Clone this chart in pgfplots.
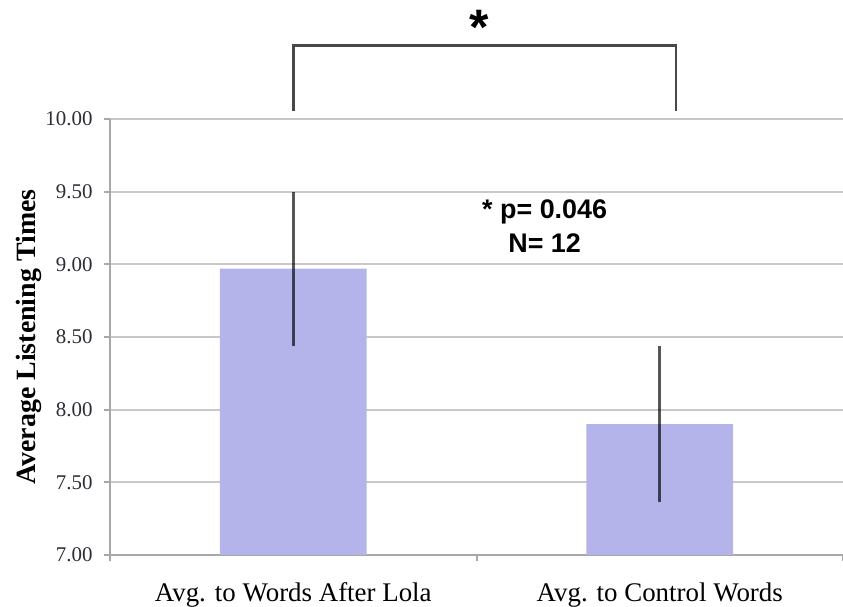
\documentclass[border=0pt]{standalone}
\usepackage{pgfplots}
\pgfplotsset{compat=1.18}
\usepackage{fontspec}
\setmainfont{Liberation Serif}
\newfontfamily\arial{Liberation Sans}
\definecolor{barfill}{RGB}{180,180,235}
\definecolor{gridgray}{RGB}{200,200,200}
\definecolor{axisgray}{RGB}{168,168,168}
\definecolor{bracketcol}{RGB}{72,72,72}
\definecolor{ticktext}{RGB}{45,45,55}
\begin{document}
\begin{tikzpicture}
\useasboundingbox (0,0) rectangle (843bp,607bp);
\begin{axis}[
  at={(110bp,52bp)}, anchor=south west,
  width=733bp, height=436bp, scale only axis,
  xmin=-0.5, xmax=1.5, ymin=7, ymax=10,
  axis lines=left,
  axis line style={-, draw=axisgray, line width=2bp},
  tick align=outside,
  major tick length=6bp, minor tick length=6bp,
  tick style={draw=axisgray, line width=2bp},
  ytick={7,7.5,8,8.5,9,9.5,10},
  /pgf/number format/assume math mode=true,
  yticklabel style={font=\fontsize{21}{21}\selectfont, text=ticktext, xshift=-8bp, /pgf/number format/fixed, /pgf/number format/fixed zerofill, /pgf/number format/precision=2},
  xtick={0,1},
  xticklabels={Avg. to Words After Lola, Avg. to Control Words},
  xticklabel style={font=\fontsize{27}{27}\selectfont, text=black, yshift=-18bp},
  major x tick style={draw=none},
  minor xtick={-0.5,0.5,1.5},
  ymajorgrids,
  grid style={draw=gridgray, line width=2bp},
  ylabel={Average Listening Times},
  ylabel style={font=\bfseries\fontsize{28}{28}\selectfont, at={(axis description cs:-0.1105,0.5)}, anchor=center},
  clip mode=individual,
]
\addplot[ybar, bar width=0.4, fill=barfill, draw=none,
  error bars/.cd, y dir=both, y explicit, error mark=none,
  error bar style={line width=3bp, black, opacity=0.65}]
  coordinates {(0,8.97) +- (0,0.53) (1,7.90) +- (0,0.535)};
\draw[bracketcol, line width=2.5bp] (axis cs:0,10.057) -- (axis cs:0,10.504) -- (axis cs:1.044,10.504) -- (axis cs:1.044,10.057);
\node[font=\arial\bfseries\fontsize{50}{50}\selectfont, anchor=base, inner sep=0pt] at (axis cs:0.506,10.516) {*};
\node[align=center, font=\arial\bfseries\fontsize{27}{34}\selectfont] at (axis cs:0.686,9.264) {* p= 0.046\\N= 12};
\end{axis}
\end{tikzpicture}
\end{document}
